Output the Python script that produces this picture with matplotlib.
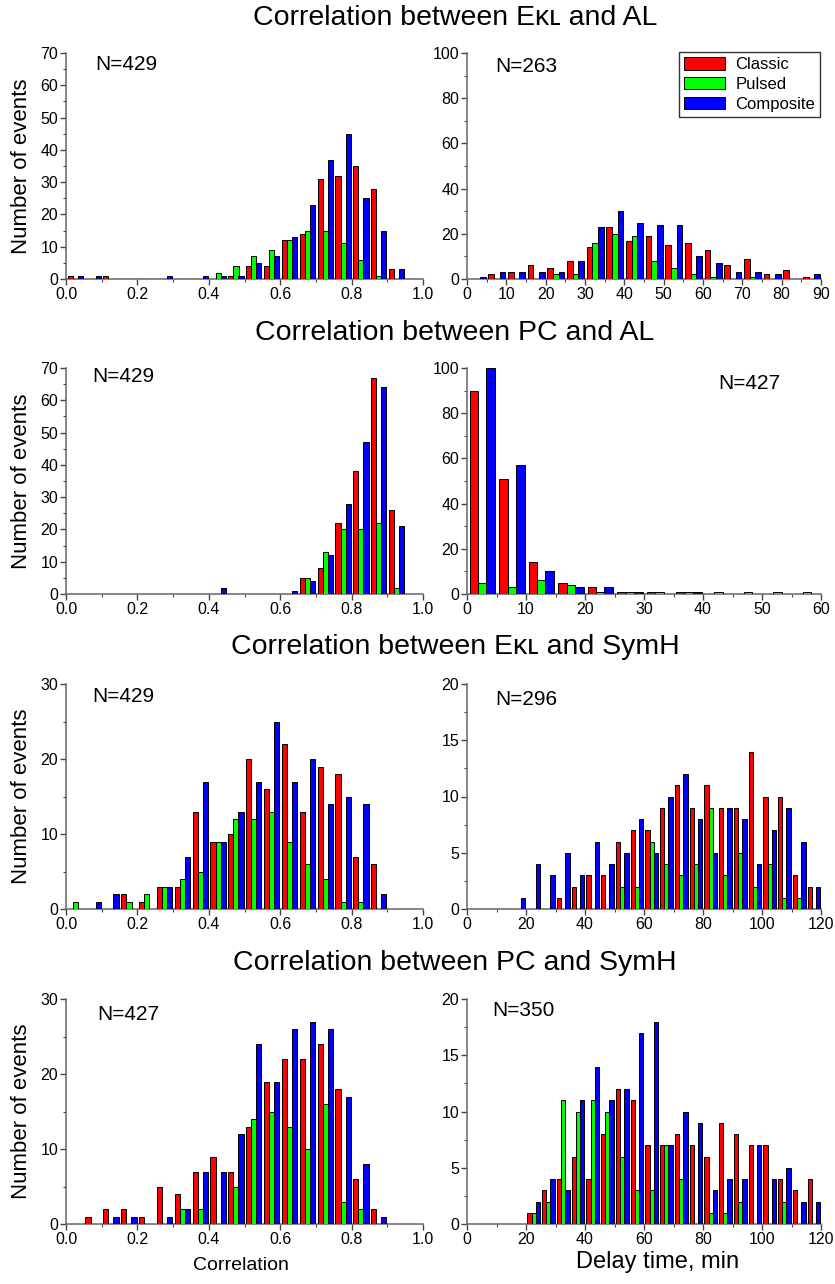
import matplotlib
matplotlib.use("Agg")
import matplotlib.pyplot as plt
from matplotlib.ticker import MultipleLocator

plt.rcParams['font.family'] = ['Liberation Sans', 'DejaVu Sans']

# ---- data: counts per bin (classic / pulsed / composite) ----
# correlation histograms, bin width 0.05
corr_ekl_al_start = 0.0
corr_ekl_al_red = [1, 0, 1, 0, 0, 0, 0, 0, 0, 1, 4, 4, 12, 14, 31, 32, 35, 28, 3]
corr_ekl_al_green = [0, 0, 0, 0, 0, 0, 0, 0, 2, 4, 7, 9, 12, 15, 15, 11, 6, 1, 0]
corr_ekl_al_blue = [1, 1, 0, 0, 0, 1, 0, 1, 1, 1, 5, 7, 13, 23, 37, 45, 25, 15, 3]

corr_pc_al_start = 0.0
corr_pc_al_red = [0, 0, 0, 0, 0, 0, 0, 0, 0, 0, 0, 0, 0, 5, 8, 22, 38, 67, 26]
corr_pc_al_green = [0, 0, 0, 0, 0, 0, 0, 0, 0, 0, 0, 0, 0, 5, 13, 20, 20, 22, 2]
corr_pc_al_blue = [0, 0, 0, 0, 0, 0, 0, 0, 2, 0, 0, 0, 1, 4, 12, 28, 47, 64, 21]

corr_ekl_symh_start = 0.0
corr_ekl_symh_red = [0, 0, 0, 2, 1, 3, 3, 13, 9, 10, 20, 16, 22, 13, 19, 18, 7, 6]
corr_ekl_symh_green = [1, 0, 0, 1, 2, 3, 4, 5, 9, 12, 12, 13, 9, 6, 4, 1, 1, 0]
corr_ekl_symh_blue = [0, 1, 2, 0, 0, 3, 7, 17, 9, 13, 17, 25, 17, 20, 14, 15, 14, 2]

corr_pc_symh_start = 0.0
corr_pc_symh_red = [0, 1, 2, 2, 1, 5, 4, 7, 9, 7, 13, 19, 22, 22, 24, 18, 6, 2]
corr_pc_symh_green = [0, 0, 0, 0, 0, 0, 2, 2, 0, 5, 14, 15, 13, 10, 16, 3, 2, 0]
corr_pc_symh_blue = [0, 0, 1, 1, 0, 1, 2, 7, 7, 12, 24, 19, 26, 27, 26, 17, 8, 1]

# delay time histograms, bin width 5 min
delay_ekl_al_red = [0, 2, 3, 6, 5, 8, 14, 23, 17, 19, 15, 16, 13, 6, 9, 2, 4, 1]
delay_ekl_al_green = [0, 0, 0, 0, 2, 2, 16, 20, 19, 8, 5, 2, 1, 0, 1, 0, 0, 0]
delay_ekl_al_blue = [1, 3, 3, 3, 3, 8, 23, 30, 25, 24, 24, 10, 7, 3, 3, 2, 0, 2]

delay_pc_al_red = [90, 51, 14, 5, 3, 1, 1, 1, 0, 0, 0, 0]
delay_pc_al_green = [5, 3, 6, 4, 1, 1, 1, 1, 1, 1, 1, 1]
delay_pc_al_blue = [100, 57, 10, 3, 3, 1, 0, 1, 0, 0, 0, 0]

delay_ekl_symh_red = [0, 0, 0, 0, 0, 0, 1, 2, 3, 3, 6, 7, 7, 9, 11, 9, 11, 9, 9, 14, 10, 10, 3, 2]
delay_ekl_symh_green = [0, 0, 0, 0, 0, 0, 0, 0, 0, 0, 2, 2, 6, 4, 3, 4, 9, 3, 5, 2, 4, 1, 1, 0]
delay_ekl_symh_blue = [0, 0, 0, 1, 4, 3, 5, 3, 6, 4, 5, 8, 5, 10, 12, 8, 5, 9, 8, 4, 7, 9, 6, 2]

delay_pc_symh_red = [0, 0, 0, 0, 1, 3, 4, 6, 4, 8, 12, 11, 7, 7, 8, 7, 6, 9, 8, 7, 7, 4, 3, 4]
delay_pc_symh_green = [0, 0, 0, 0, 1, 2, 11, 10, 11, 10, 6, 3, 3, 7, 4, 0, 1, 1, 2, 0, 0, 2, 0, 0]
delay_pc_symh_blue = [0, 0, 0, 0, 2, 4, 3, 11, 14, 11, 12, 17, 18, 7, 10, 9, 3, 4, 4, 7, 4, 5, 2, 2]

row_titles = ["Correlation between E\u1d0b\u029f and AL",
              "Correlation between PC and AL",
              "Correlation between E\u1d0b\u029f and SymH",
              "Correlation between PC and SymH"]
left_n = ["N=429", "N=429", "N=429", "N=427"]
right_n = ["N=263", "N=427", "N=296", "N=350"]
series_names = ["Classic", "Pulsed", "Composite"]
series_colors = ["#ff0000", "#00ff00", "#0000ff"]

W, H = 835, 1284
fig = plt.figure(figsize=(W / 100, H / 100), dpi=100)

row_top = [53, 368, 684, 999]
row_bot = [279, 594, 909, 1224]
title_y = [18, 333, 647, 963]


def make_ax(x0, x1, top, bot):
    return fig.add_axes([x0 / W, 1 - bot / H, (x1 - x0) / W, (bot - top) / H])


def style_ax(ax, xmax, xmajor, ymax, ymajor, xfmt=None):
    ax.set_xlim(0, xmax)
    ax.set_ylim(0, ymax)
    ax.xaxis.set_major_locator(MultipleLocator(xmajor))
    ax.xaxis.set_minor_locator(MultipleLocator(xmajor / 2))
    ax.yaxis.set_major_locator(MultipleLocator(ymajor))
    ax.yaxis.set_minor_locator(MultipleLocator(ymajor / 2))
    if xfmt:
        ax.xaxis.set_major_formatter(xfmt)
    for s in ["top", "right"]:
        ax.spines[s].set_visible(False)
    for s in ["left", "bottom"]:
        ax.spines[s].set_color("#666666")
        ax.spines[s].set_linewidth(1.1)
    ax.tick_params(which="major", direction="out", length=4, width=1,
                   color="#444444", labelsize=11.5, pad=1.5)
    ax.tick_params(which="minor", direction="out", length=2.5, width=0.8,
                   color="#444444")
    ax.set_facecolor("none")


def draw_hist(ax, start, binw, reds, greens, blues, labels=False):
    offsets = [0.09, 0.38, 0.66]
    width = 0.29 * binw
    for vals, off, col, name in zip([reds, greens, blues], offsets,
                                    series_colors, series_names):
        xs = [start + i * binw + off * binw for i, v in enumerate(vals) if v > 0]
        hs = [v for v in vals if v > 0]
        ax.bar(xs, hs, width=width, align="edge", color=col,
               edgecolor="black", linewidth=0.7, zorder=3,
               label=name if labels else None)


corr_sets = [
    (corr_ekl_al_start, corr_ekl_al_red, corr_ekl_al_green, corr_ekl_al_blue, 70),
    (corr_pc_al_start, corr_pc_al_red, corr_pc_al_green, corr_pc_al_blue, 70),
    (corr_ekl_symh_start, corr_ekl_symh_red, corr_ekl_symh_green, corr_ekl_symh_blue, 30),
    (corr_pc_symh_start, corr_pc_symh_red, corr_pc_symh_green, corr_pc_symh_blue, 30),
]
delay_sets = [
    (delay_ekl_al_red, delay_ekl_al_green, delay_ekl_al_blue, 90, 10, 100, 20),
    (delay_pc_al_red, delay_pc_al_green, delay_pc_al_blue, 60, 10, 100, 20),
    (delay_ekl_symh_red, delay_ekl_symh_green, delay_ekl_symh_blue, 120, 20, 20, 5),
    (delay_pc_symh_red, delay_pc_symh_green, delay_pc_symh_blue, 120, 20, 20, 5),
]

left_n_pos = [(95, 65), (92, 377), (92, 697), (97, 1015)]
right_n_pos = [(495, 67), (718, 383), (495, 700), (492, 1010)]

for r in range(4):
    top, bot = row_top[r], row_bot[r]

    # left: correlation
    axl = make_ax(66, 423, top, bot)
    st, rr, gg, bb, ymax = corr_sets[r]
    draw_hist(axl, st, 0.05, rr, gg, bb)
    style_ax(axl, 1.0, 0.2, ymax, 10, xfmt=lambda v, p: "%.1f" % v)

    # right: delay time
    axr = make_ax(467, 821, top, bot)
    rr, gg, bb, xmax, xmaj, ymax, ymaj = delay_sets[r]
    draw_hist(axr, 0, 5, rr, gg, bb, labels=(r == 0))
    style_ax(axr, xmax, xmaj, ymax, ymaj)

    if r == 0:
        leg = axr.legend(loc="upper right", bbox_to_anchor=(0.997, 1.005),
                         fontsize=12, frameon=True, fancybox=False,
                         handlelength=2.5, handleheight=0.8, labelspacing=0.28,
                         handletextpad=0.6, borderpad=0.3, borderaxespad=0)
        leg.get_frame().set_edgecolor("black")
        leg.get_frame().set_linewidth(1.0)

    fig.text(455 / W, 1 - title_y[r] / H, row_titles[r], ha="center",
             va="center", fontsize=20.5)
    fig.text(22 / W, 1 - (top + bot) / 2 / H, "Number of events",
             rotation=90, ha="center", va="center", fontsize=16)
    fig.text(left_n_pos[r][0] / W, 1 - left_n_pos[r][1] / H, left_n[r],
             ha="left", va="center", fontsize=15)
    fig.text(right_n_pos[r][0] / W, 1 - right_n_pos[r][1] / H, right_n[r],
             ha="left", va="center", fontsize=15)

fig.text(241 / W, 1 - 1265 / H, "Correlation", ha="center", va="center",
         fontsize=14)
fig.text(658 / W, 1 - 1262 / H, "Delay time, min", ha="center",
         va="center", fontsize=17)

fig.savefig("out.png", dpi=100)
